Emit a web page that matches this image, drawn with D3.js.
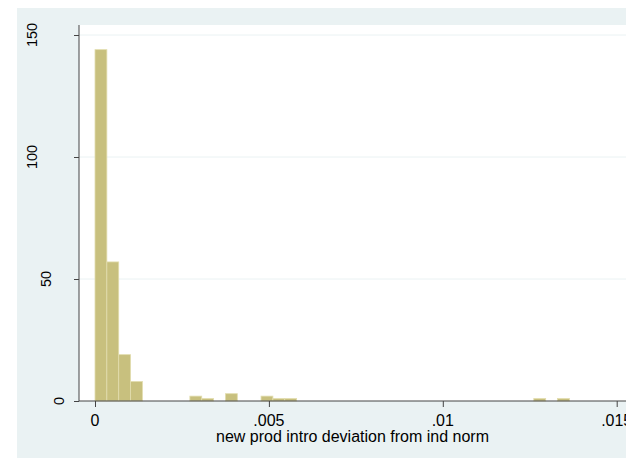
<!DOCTYPE html>
<html>
<head>
<meta charset="utf-8">
<script src="https://cdn.jsdelivr.net/npm/d3@7"></script>
<style>
  html, body { margin: 0; padding: 0; background: #ffffff; }
  svg { display: block; }
  text { font-family: "Liberation Sans", Arial, sans-serif; fill: #000; }
</style>
</head>
<body>
<svg id="chart" width="626" height="459"></svg>
<script>
// Histogram counts for each bin, starting at 0 with a fixed bin width
const binStart = 0;
const binWidth = 0.000341;
const binCounts = [144, 57, 19, 8, 0, 0, 0, 0, 2, 1,
                   0, 3, 0, 0, 2, 1, 1, 0, 0, 0,
                   0, 0, 0, 0, 0, 0, 0, 0, 0, 0,
                   0, 0, 0, 0, 0, 0, 0, 1, 0, 1];
const xTicks = [0, 0.005, 0.01, 0.015];
const xTickLabels = ["0", ".005", ".01", ".015"];
const yTicks = [0, 50, 100, 150];
const yTickLabels = ["0", "50", "100", "150"];
const xTitle = "new prod intro deviation from ind norm";

const svg = d3.select("#chart");
const W = 626, H = 459;

// outer graph region
svg.append("rect").attr("x", 17).attr("y", 8).attr("width", W - 17).attr("height", 450)
  .attr("fill", "#eaf2f3");

// plot region
const plot = { left: 79, right: 626, top: 25, bottom: 401 };
svg.append("rect").attr("x", plot.left).attr("y", plot.top)
  .attr("width", plot.right - plot.left).attr("height", plot.bottom - plot.top)
  .attr("fill", "#ffffff");

const x = d3.scaleLinear().domain([0, 0.015]).range([95, 616.7]);
const y = d3.scaleLinear().domain([0, 150]).range([401, 35]);

// horizontal grid lines
svg.append("g").selectAll("line").data(yTicks.filter(d => d > 0)).join("line")
  .attr("x1", plot.left).attr("x2", plot.right)
  .attr("y1", d => y(d)).attr("y2", d => y(d))
  .attr("stroke", "#eaf2f3").attr("stroke-width", 1);

// bars
const bins = binCounts.map((c, i) => ({
  x0: binStart + i * binWidth,
  x1: binStart + (i + 1) * binWidth,
  count: c
})).filter(b => b.count > 0);

svg.append("g").selectAll("rect").data(bins).join("rect")
  .attr("x", d => x(d.x0))
  .attr("width", d => x(d.x1) - x(d.x0))
  .attr("y", d => y(d.count))
  .attr("height", d => y(0) - y(d.count))
  .attr("fill", "#c8c07e")
  .attr("stroke", "#e2ddae")
  .attr("stroke-width", 0.8);

// y axis
const yAxis = svg.append("g").attr("transform", `translate(${plot.left},0)`)
  .call(d3.axisLeft(y).tickValues(yTicks).tickSize(5).tickFormat(""));
yAxis.select(".domain").attr("d", `M0,${plot.top}V${plot.bottom}`);
yAxis.selectAll("line, path").attr("stroke", "#444");

const yLab = svg.append("g").selectAll("text").data(yTicks).join("text")
  .attr("font-size", 14.5)
  .attr("text-anchor", "middle")
  .attr("dominant-baseline", "central")
  .text((d, i) => yTickLabels[i]);
yLab.attr("transform", function (d) {
  const len = this.getComputedTextLength();
  return `translate(${73 - 1.7 * len},${y(d)}) rotate(-90)`;
});

// x axis
const xAxis = svg.append("g").attr("transform", `translate(0,${plot.bottom})`)
  .call(d3.axisBottom(x).tickValues(xTicks).tickSize(6).tickFormat(""));
xAxis.select(".domain").attr("d", `M${plot.left},0H${plot.right}`);
xAxis.selectAll("line, path").attr("stroke", "#444");

svg.append("g").selectAll("text").data(xTicks).join("text")
  .attr("x", d => x(d)).attr("y", 426)
  .attr("font-size", 16)
  .attr("text-anchor", "middle")
  .text((d, i) => xTickLabels[i]);

svg.append("text")
  .attr("x", (plot.left + plot.right) / 2).attr("y", 441.5)
  .attr("font-size", 16)
  .attr("text-anchor", "middle")
  .text(xTitle);
</script>
</body>
</html>
